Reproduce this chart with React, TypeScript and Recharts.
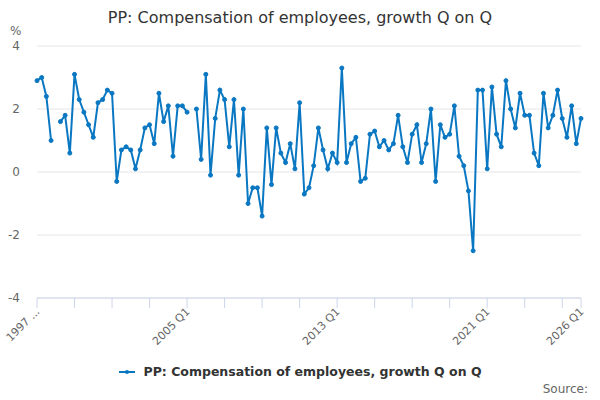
import React from "react";
import {
  LineChart,
  Line,
  CartesianGrid,
  XAxis,
  YAxis,
} from "recharts";

const title = "PP: Compensation of employees, growth Q on Q";
const seriesName = "PP: Compensation of employees, growth Q on Q";

const firstYear = 1997;
const lastYear = 2026;

// quarterly growth, % (null = no value published)
const growth: (number | null)[] = [
  2.9, 3.0, 2.4, 1.0, null, 1.6, 1.8, 0.6,
  3.1, 2.3, 1.9, 1.5, 1.1, 2.2, 2.3, 2.6,
  2.5, -0.3, 0.7, 0.8, 0.7, 0.1, 0.7, 1.4,
  1.5, 0.9, 2.5, 1.6, 2.1, 0.5, 2.1, 2.1,
  1.9, null, 2.0, 0.4, 3.1, -0.1, 1.7, 2.6,
  2.3, 0.8, 2.3, -0.1, 2.0, -1.0, -0.5, -0.5,
  -1.4, 1.4, -0.4, 1.4, 0.6, 0.3, 0.9, 0.1,
  2.2, -0.7, -0.5, 0.2, 1.4, 0.7, 0.1, 0.6,
  0.3, 3.3, 0.3, 0.9, 1.1, -0.3, -0.2, 1.2,
  1.3, 0.8, 1.0, 0.7, 0.9, 1.8, 0.8, 0.3,
  1.2, 1.5, 0.3, 0.9, 2.0, -0.3, 1.5, 1.1,
  1.2, 2.1, 0.5, 0.2, -0.6, -2.5, 2.6, 2.6,
  0.1, 2.7, 1.2, 0.8, 2.9, 2.0, 1.4, 2.5,
  1.8, 1.8, 0.6, 0.2, 2.5, 1.4, 1.8, 2.6,
  1.7, 1.1, 2.1, 0.9, 1.7,
];

const quarters: string[] = [];
for (let y = firstYear; y <= lastYear; y++) {
  for (let q = 1; q <= 4; q++) {
    if (y === lastYear && q > 1) break;
    quarters.push(`${y} Q${q}`);
  }
}

const tickQuarters = [
  "1997 Q1", "1999 Q1", "2001 Q1", "2003 Q1", "2005 Q1", "2007 Q1",
  "2009 Q1", "2011 Q1", "2013 Q1", "2015 Q1", "2017 Q1", "2019 Q1",
  "2021 Q1", "2023 Q1", "2025 Q1", "2026 Q1",
];
const labelledQuarters: Record<string, string> = {
  "1997 Q1": "1997 ...",
  "2005 Q1": "2005 Q1",
  "2013 Q1": "2013 Q1",
  "2021 Q1": "2021 Q1",
  "2026 Q1": "2026 Q1",
};
const yTicks = [-4, -2, 0, 2, 4];

const data = quarters.map((quarter, i) => ({ i, quarter, value: growth[i] }));

const font = "'DejaVu Sans', Verdana, sans-serif";
const blue = "#0a77c2";

function QuarterTick(props: any) {
  const { x, y, payload } = props;
  const label = labelledQuarters[quarters[payload.value]];
  if (!label) return null;
  return (
    <text
      x={x + 1}
      y={y}
      transform={`rotate(-45 ${x + 1} ${y})`}
      textAnchor="end"
      dy="0.3em"
      fill="#666"
      fontSize={11}
      fontFamily={font}
    >
      {label}
    </text>
  );
}

export default function App() {
  return (
    <div style={{ position: "relative", width: 600, height: 400, fontFamily: font }}>
      <style>{`body{margin:0}`}</style>
      <div
        style={{
          position: "absolute",
          top: 8,
          left: 0,
          width: 600,
          textAlign: "center",
          fontSize: 16,
          color: "#333",
        }}
      >
        {title}
      </div>
      <div style={{ position: "absolute", top: 24, left: 10, fontSize: 12, color: "#666" }}>%</div>

      <LineChart
        width={600}
        height={400}
        data={data}
        margin={{ top: 46, right: 19, bottom: 0, left: 0 }}
      >
        <CartesianGrid stroke="#e6e6e6" vertical={false} />
        <XAxis
          dataKey="i"
          type="number"
          domain={[0, quarters.length - 1]}
          ticks={tickQuarters.map((q) => quarters.indexOf(q))}
          height={102}
          tickSize={10}
          tickMargin={2}
          stroke="#ccd6eb"
          tick={<QuarterTick />}
          interval={0}
        />
        <YAxis
          domain={[-4, 4]}
          ticks={yTicks}
          width={37}
          axisLine={false}
          tickLine={false}
          tickMargin={11}
          tick={{ fill: "#666", fontSize: 12, fontFamily: font }}
          interval={0}
        />
        <Line
          dataKey="value"
          stroke={blue}
          strokeWidth={2}
          dot={{ r: 2, fill: blue, stroke: blue, strokeWidth: 1 }}
          activeDot={false}
          connectNulls={false}
          isAnimationActive={false}
        />
      </LineChart>

      <div
        style={{
          position: "absolute",
          top: 364,
          left: 0,
          width: 600,
          display: "flex",
          justifyContent: "center",
          alignItems: "center",
          fontSize: 12.5,
          fontWeight: "bold",
          color: "#333",
        }}
      >
        <svg width={21} height={12} style={{ marginRight: 4 }}>
          <line x1={1} y1={6} x2={17} y2={6} stroke={blue} strokeWidth={2} />
          <circle cx={9} cy={6} r={2} fill={blue} />
        </svg>
        {seriesName}
      </div>
      <div style={{ position: "absolute", top: 382, right: 12, fontSize: 12, color: "#666" }}>
        Source:
      </div>
    </div>
  );
}
